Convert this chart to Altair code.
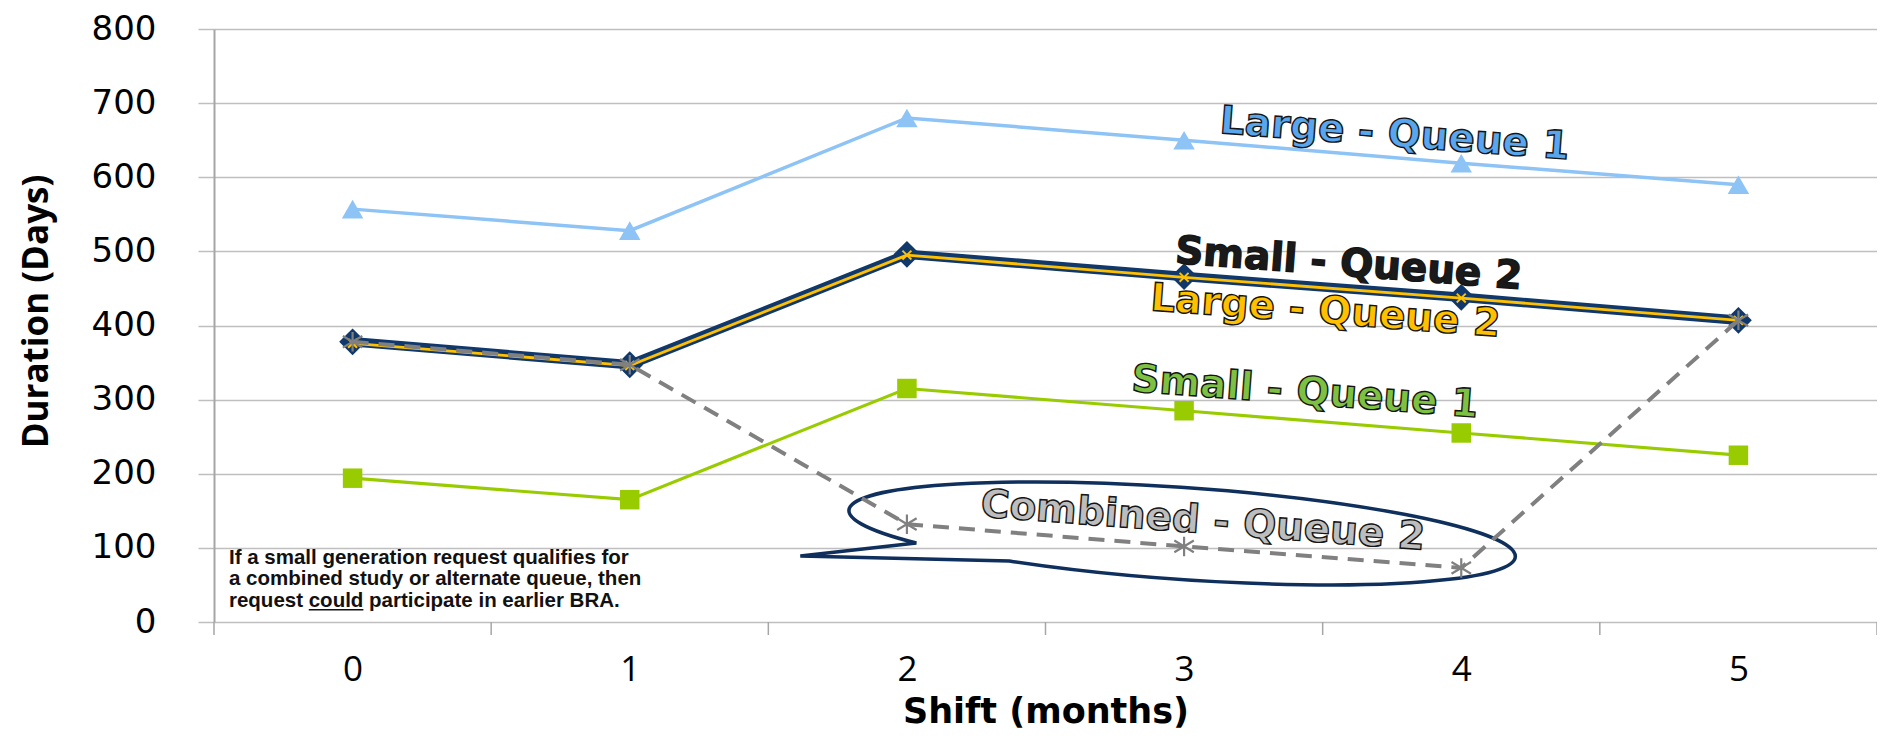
import altair as alt
import pandas as pd

# ---------------- data ----------------
shift = [0, 1, 2, 3, 4, 5]
small_q1 = [194, 165, 315, 285, 255, 225]
large_q1 = [557, 528, 680, 650, 619, 590]
small_q2 = [378, 347, 496, 466, 438, 407]
large_q2 = [376, 346, 495, 465, 437, 407]
combined_q2 = [378, 347, 132, 102, 73, 407]

series_names = ["Large - Queue 1", "Small - Queue 1", "Small - Queue 2",
                "Large - Queue 2", "Combined - Queue 2"]
series_values = [large_q1, small_q1, small_q2, large_q2, combined_q2]

y_ticks = [0, 100, 200, 300, 400, 500, 600, 700, 800]
x_ticks = shift
band_edges = [-0.5, 0.5, 1.5, 2.5, 3.5, 4.5, 5.5]

note_lines = ["If a small generation request qualifies for",
              "a combined study or alternate queue, then",
              "request could participate in earlier BRA."]

rows = []
for name, vals in zip(series_names, series_values):
    for s, v in zip(shift, vals):
        rows.append({"series": name, "shift": s, "days": v})
df = pd.DataFrame(rows)

# ---------------- layout ----------------
W, H = 1663, 593

xscale = alt.Scale(domain=[-0.5, 5.5], nice=False, zero=False)
yscale = alt.Scale(domain=[0, 800], nice=False, zero=True)

x_enc = alt.X("shift:Q", scale=xscale, axis=alt.Axis(
    values=x_ticks, ticks=False, tickSize=0, domain=False, grid=False,
    labelFont="Open Sans", labelFontSize=35, labelColor="#000000",
    labelPadding=47, labelBaseline="middle", labelFlush=False,
    title="Shift (months)", titleFont="DejaVu Sans", titleFontWeight="bold",
    titleFontSize=35, titleX=W / 2, titleY=89, titleBaseline="middle",
    titleAlign="center", titleColor="#000000"))

y_enc = alt.Y("days:Q", scale=yscale, axis=alt.Axis(
    values=y_ticks, grid=True, gridColor="#BFBFBF", gridWidth=1.5,
    domain=True, domainColor="#A6A6A6", domainWidth=2,
    ticks=True, tickSize=16, tickColor="#BFBFBF", tickWidth=1.5,
    labelFont="DejaVu Sans", labelFontSize=34, labelColor="#000000",
    labelPadding=42, labelFlush=False,
    title="Duration (Days)", titleFont="Open Sans", titleFontWeight="bold",
    titleFontSize=35, titleX=-178, titleY=282, titleAngle=270,
    titleAlign="center", titleBaseline="middle", titleColor="#000000"))

# boundary tick marks under the x axis
edges_df = pd.DataFrame({"shift": band_edges})
edge_ticks = alt.Chart(edges_df).mark_rule(color="#A6A6A6", strokeWidth=1.5).encode(
    x=x_enc, y=alt.value(H), y2=alt.value(H + 13))

# callout bubble (wedge ellipse), drawn as a custom symbol
bubble_path = ("M -2.65 0.10 L -3.81 0.23 L -1.72 0.28 "
               "A 3.34 0.46 4 1 0 -2.65 0.10 Z")
bubble_df = pd.DataFrame({"shift": [2.99], "days": [120]})
bubble = alt.Chart(bubble_df).mark_point(
    shape=bubble_path, size=40000, filled=False, color="#0F2F5C",
    strokeWidth=3.5, opacity=1).encode(x=x_enc, y=y_enc)


def series_layers(name, color, width, shape, size, filled=True, dash=None, pt_width=1):
    base = alt.Chart(df).transform_filter(alt.datum.series == name)
    lk = dict(color=color, strokeWidth=width)
    if dash:
        lk["strokeDash"] = dash
    line = base.mark_line(**lk).encode(x=x_enc, y=y_enc)
    pts = base.mark_point(shape=shape, size=size, filled=filled, color=color,
                          opacity=1, strokeWidth=pt_width).encode(x=x_enc, y=y_enc)
    return [line, pts]


x_shape = "M -1 -1 L 1 1 M -1 1 L 1 -1"
star_shape = "M -1 -0.6 L 1 0.6 M -1 0.6 L 1 -0.6 M 0 -1 L 0 1"

layers = [edge_ticks, bubble]
layers += series_layers("Large - Queue 1", "#8DC3F5", 3.5, "triangle-up", 460)
layers += series_layers("Small - Queue 1", "#99CC00", 3.2, "square", 380)
layers += series_layers("Small - Queue 2", "#10386B", 9.5, "diamond", 720)
layers += series_layers("Large - Queue 2", "#FFC000", 2.8, x_shape, 80, filled=False, pt_width=2)
layers += series_layers("Combined - Queue 2", "#808080", 4, star_shape, 380,
                        filled=False, dash=[16, 10], pt_width=2.2)

# series labels
labels_df = pd.DataFrame({
    "text": ["Large - Queue 1", "Small - Queue 2", "Large - Queue 2",
             "Small - Queue 1", "Combined - Queue 2"],
    "shift": [3.76, 3.594, 3.51, 3.436, 3.068],
    "days": [658, 483, 419, 310, 136],
    "fill": ["#58A6EE", "#1A1A1A", "#FFC000", "#7DC142", "#BDBDBD"],
})
labels = alt.Chart(labels_df).mark_text(
    font="DejaVu Sans", fontWeight="bold", fontSize=39, angle=4.3,
    align="center", baseline="middle", stroke="#151515", strokeWidth=1.4
).encode(x=x_enc, y=y_enc, text="text:N", color=alt.Color("fill:N", scale=None))

# note text (first line anchored at y)
note_df = pd.DataFrame({"shift": [-0.446], "days": [87], "lines": [note_lines]})
note = alt.Chart(note_df).mark_text(
    font="Liberation Sans", fontWeight="bold", fontSize=20.5, lineHeight=21.5,
    align="left", baseline="middle", color="#111111"
).encode(x=x_enc, y=y_enc, text="lines")

# underline under "could"
ul_df = pd.DataFrame({"shift": [-0.158], "shift2": [0.039], "days": [16.5]})
underline = alt.Chart(ul_df).mark_rule(color="#111111", strokeWidth=1.6).encode(
    x=x_enc, x2="shift2:Q", y=y_enc)

layers += [labels, note, underline]

chart = alt.layer(*layers).properties(
    width=W, height=H,
    autosize=alt.AutoSizeParams(type="none"),
    padding={"left": 206, "top": 21, "right": 0, "bottom": 110},
    background="white",
).configure_view(stroke=None)

chart.save("out.html", embed_options={"renderer": "svg", "actions": False})
